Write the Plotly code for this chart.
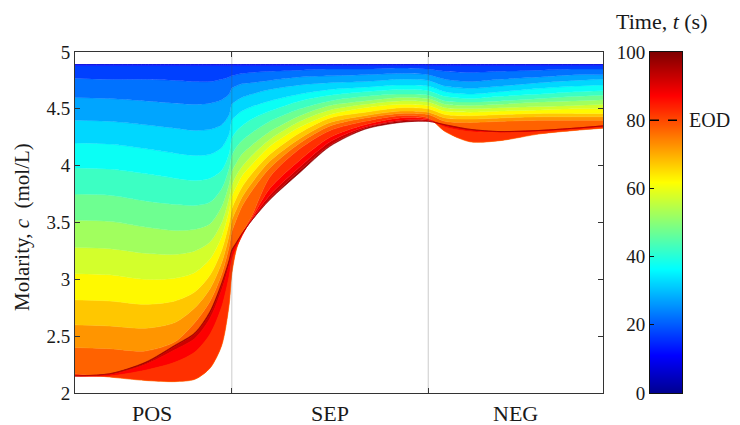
import plotly.graph_objects as go

# ---------------- data ----------------
# normalised through-thickness position (0 = POS current collector, 1 = NEG end)
positions = [0.000, 0.066, 0.133, 0.189, 0.227, 0.256, 0.278, 0.292, 0.297,
             0.305, 0.316, 0.335, 0.369, 0.426, 0.483, 0.549, 0.616, 0.669,
             0.701, 0.748, 0.805, 0.881, 0.947, 1.000]

times = [0, 5, 10, 15, 20, 25, 30, 35, 40, 45, 50, 55, 60, 65, 70, 75, 80, 85, 90, 95, 100]

c_t000 = [4.89, 4.89, 4.89, 4.89, 4.89, 4.89, 4.89, 4.89, 4.89, 4.89, 4.89, 4.89, 4.89, 4.89, 4.89, 4.89, 4.89, 4.89, 4.89, 4.89, 4.89, 4.89, 4.89, 4.89]
c_t005 = [4.89, 4.89, 4.89, 4.89, 4.89, 4.89, 4.89, 4.89, 4.89, 4.89, 4.89, 4.89, 4.89, 4.89, 4.89, 4.89, 4.89, 4.89, 4.89, 4.89, 4.89, 4.89, 4.89, 4.89]
c_t010 = [4.89, 4.89, 4.89, 4.89, 4.89, 4.89, 4.89, 4.89, 4.89, 4.89, 4.89, 4.89, 4.89, 4.89, 4.89, 4.89, 4.89, 4.89, 4.89, 4.89, 4.89, 4.89, 4.89, 4.89]
c_t015 = [4.88, 4.88, 4.88, 4.88, 4.88, 4.88, 4.88, 4.88, 4.88, 4.88, 4.88, 4.88, 4.88, 4.88, 4.88, 4.88, 4.88, 4.88, 4.88, 4.88, 4.88, 4.88, 4.88, 4.88]
c_t020 = [4.77, 4.76, 4.76, 4.75, 4.74, 4.74, 4.76, 4.78, 4.79, 4.80, 4.81, 4.82, 4.83, 4.84, 4.85, 4.85, 4.86, 4.85, 4.83, 4.82, 4.83, 4.84, 4.85, 4.85]
c_t025 = [4.60, 4.59, 4.57, 4.55, 4.54, 4.55, 4.58, 4.63, 4.68, 4.70, 4.72, 4.73, 4.75, 4.78, 4.79, 4.80, 4.81, 4.80, 4.76, 4.74, 4.76, 4.78, 4.80, 4.80]
c_t030 = [4.40, 4.39, 4.36, 4.33, 4.31, 4.32, 4.36, 4.45, 4.54, 4.57, 4.60, 4.63, 4.67, 4.71, 4.73, 4.74, 4.76, 4.75, 4.70, 4.68, 4.70, 4.73, 4.75, 4.76]
c_t035 = [4.20, 4.19, 4.15, 4.11, 4.09, 4.10, 4.16, 4.28, 4.40, 4.44, 4.48, 4.52, 4.57, 4.63, 4.67, 4.69, 4.71, 4.70, 4.65, 4.63, 4.65, 4.68, 4.70, 4.71]
c_t040 = [3.98, 3.97, 3.93, 3.89, 3.87, 3.89, 3.96, 4.11, 4.24, 4.30, 4.35, 4.41, 4.48, 4.57, 4.62, 4.65, 4.67, 4.66, 4.61, 4.59, 4.61, 4.63, 4.65, 4.66]
c_t045 = [3.75, 3.74, 3.69, 3.66, 3.65, 3.68, 3.80, 3.98, 4.09, 4.16, 4.22, 4.29, 4.39, 4.50, 4.57, 4.61, 4.63, 4.62, 4.57, 4.56, 4.57, 4.59, 4.61, 4.62]
c_t050 = [3.52, 3.51, 3.46, 3.43, 3.44, 3.49, 3.64, 3.84, 3.95, 4.02, 4.10, 4.18, 4.30, 4.44, 4.53, 4.57, 4.60, 4.59, 4.54, 4.53, 4.54, 4.56, 4.57, 4.58]
c_t055 = [3.28, 3.27, 3.23, 3.22, 3.25, 3.33, 3.50, 3.72, 3.83, 3.91, 3.99, 4.09, 4.23, 4.39, 4.49, 4.54, 4.57, 4.56, 4.51, 4.50, 4.51, 4.52, 4.53, 4.54]
c_t060 = [3.05, 3.04, 3.00, 3.01, 3.06, 3.18, 3.38, 3.61, 3.73, 3.81, 3.91, 4.01, 4.17, 4.34, 4.45, 4.51, 4.54, 4.53, 4.48, 4.47, 4.48, 4.49, 4.50, 4.50]
c_t065 = [2.82, 2.81, 2.78, 2.81, 2.89, 3.04, 3.26, 3.50, 3.62, 3.71, 3.81, 3.93, 4.10, 4.29, 4.42, 4.47, 4.51, 4.50, 4.45, 4.44, 4.45, 4.46, 4.46, 4.46]
c_t070 = [2.60, 2.59, 2.57, 2.62, 2.75, 2.92, 3.15, 3.39, 3.52, 3.61, 3.72, 3.85, 4.04, 4.24, 4.38, 4.44, 4.48, 4.47, 4.42, 4.41, 4.42, 4.43, 4.43, 4.43]
c_t075 = [2.40, 2.39, 2.37, 2.45, 2.62, 2.81, 3.05, 3.29, 3.42, 3.52, 3.64, 3.78, 3.98, 4.20, 4.35, 4.42, 4.46, 4.45, 4.39, 4.38, 4.39, 4.40, 4.40, 4.40]
c_t080 = [2.17, 2.14, 2.11, 2.10, 2.12, 2.22, 2.42, 2.78, 3.05, 3.25, 3.40, 3.56, 3.90, 4.15, 4.31, 4.39, 4.44, 4.42, 4.30, 4.21, 4.22, 4.28, 4.31, 4.33]
c_t085 = [2.15, 2.15, 2.20, 2.27, 2.36, 2.52, 2.76, 3.03, 3.17, 3.27, 3.38, 3.54, 3.80, 4.05, 4.25, 4.36, 4.42, 4.41, 4.34, 4.30, 4.29, 4.30, 4.32, 4.34]
c_t090 = [2.15, 2.16, 2.25, 2.38, 2.48, 2.66, 2.91, 3.13, 3.23, 3.30, 3.39, 3.53, 3.74, 3.99, 4.21, 4.34, 4.40, 4.40, 4.35, 4.31, 4.30, 4.31, 4.33, 4.35]
c_t095 = [2.15, 2.17, 2.26, 2.41, 2.52, 2.70, 2.95, 3.16, 3.25, 3.31, 3.40, 3.52, 3.71, 3.96, 4.18, 4.33, 4.39, 4.39, 4.36, 4.32, 4.30, 4.31, 4.33, 4.35]
c_t100 = [2.15, 2.17, 2.27, 2.42, 2.53, 2.72, 2.97, 3.17, 3.26, 3.32, 3.40, 3.52, 3.70, 3.94, 4.17, 4.32, 4.38, 4.39, 4.36, 4.32, 4.30, 4.31, 4.33, 4.35]

curves = [c_t000, c_t005, c_t010, c_t015, c_t020, c_t025, c_t030, c_t035, c_t040,
          c_t045, c_t050, c_t055, c_t060, c_t065, c_t070, c_t075, c_t080, c_t085,
          c_t090, c_t095, c_t100]

region_bounds = [0.297, 0.669]
region_labels = ["POS", "SEP", "NEG"]
region_centers = [0.145, 0.483, 0.834]
y_ticks = [2, 2.5, 3, 3.5, 4, 4.5, 5]
y_tick_text = ["2", "2.5", "3", "3.5", "4", "4.5", "5"]
cbar_ticks = [0, 20, 40, 60, 80, 100]
eod_time = 80

# ---------------- styling ----------------
FONT = "Liberation Serif, Times New Roman, serif"
TXT = "#1a1a1a"
JET = [(0.0, (0, 0, 143)), (0.111, (0, 0, 255)), (0.365, (0, 255, 255)),
       (0.619, (255, 255, 0)), (0.873, (255, 0, 0)), (1.0, (128, 0, 0))]
JET_SCALE = [[p, "rgb(%d,%d,%d)" % c] for p, c in JET]


def jet(v):
    v = min(max(v, 0.0), 1.0)
    for (p0, c0), (p1, c1) in zip(JET[:-1], JET[1:]):
        if v <= p1:
            f = (v - p0) / (p1 - p0)
            return "rgb(%d,%d,%d)" % tuple(round(a + (b - a) * f) for a, b in zip(c0, c1))
    return "rgb(128,0,0)"


fig = go.Figure()
fig.add_trace(go.Scatter(x=positions, y=curves[0], mode="lines",
                         line=dict(width=0, shape="spline", smoothing=0.8),
                         showlegend=False, hoverinfo="skip"))
for k in range(1, len(times)):
    col = jet((times[k - 1] + times[k]) / 200.0)
    fig.add_trace(go.Scatter(x=positions, y=curves[k], mode="lines",
                             line=dict(width=0.6, color=col, shape="spline", smoothing=0.8),
                             fill="tonexty", fillcolor=col,
                             showlegend=False, hoverinfo="skip"))

# colour bar drawn as a heatmap on its own axes
fig.add_trace(go.Heatmap(x=[0, 1], y=[cbar_ticks[0], cbar_ticks[-1]],
                         z=[[cbar_ticks[0], cbar_ticks[0]], [cbar_ticks[-1], cbar_ticks[-1]]],
                         colorscale=JET_SCALE, zmin=0, zmax=100, zsmooth="best",
                         showscale=False, hoverinfo="skip", xaxis="x2", yaxis="y2"))

# the page body adds an 8 px margin, so the figure is 8 px smaller and
# every window-pixel target is shifted by that offset
OFF = 8
W, H = 740 - OFF, 425 - OFF
L, R, T, B = 75 - OFF, 0, 52 - OFF, 425 - 393
pw = W - L - R
ph = H - T - B


def px_x(px):
    return (px - OFF - L) / pw


def px_y(py):
    return (H - B - (py - OFF)) / ph


axis_common = dict(showline=True, linecolor="#333333", linewidth=1, showgrid=False,
                   zeroline=False)

fig.update_layout(
    width=W, height=H,
    margin=dict(l=L, r=R, t=T, b=B),
    paper_bgcolor="white", plot_bgcolor="white",
    font=dict(family=FONT, color=TXT, size=19),
    xaxis=dict(domain=[0, px_x(603)], range=[0, 1], tickvals=region_bounds,
               ticktext=["", ""], ticks="inside", ticklen=5, tickcolor="#333333",
               mirror="ticks", **axis_common),
    yaxis=dict(range=[2, 5], tickvals=y_ticks, ticktext=y_tick_text, ticks="inside",
               ticklen=5, tickcolor="#333333", mirror="ticks",
               tickfont=dict(family=FONT, size=19, color=TXT), **axis_common),
    xaxis2=dict(domain=[px_x(650), px_x(682)], range=[0, 1], anchor="y2",
                showticklabels=False, ticks="", showline=True, mirror=True,
                linecolor="#111111", linewidth=1, showgrid=False, zeroline=False),
    yaxis2=dict(domain=[0, 1], range=[0, 100], anchor="x2", side="left",
                tickvals=cbar_ticks, ticks="inside", ticklen=4, tickcolor="#111111",
                showline=True, mirror=True, linecolor="#111111", linewidth=1,
                showgrid=False, zeroline=False,
                tickfont=dict(family=FONT, size=19, color=TXT)),
)

shapes = []
for b in region_bounds:
    shapes.append(dict(type="line", xref="x", yref="y", x0=b, x1=b, y0=2, y1=5,
                       line=dict(color="rgba(70,70,70,0.28)", width=1), layer="above"))
shapes.append(dict(type="line", xref="x2", yref="y2", x0=0, x1=1, y0=eod_time, y1=eod_time,
                   line=dict(color="black", width=1.5, dash="dash"), layer="above"))
fig.update_layout(shapes=shapes)

ann = []
for lab, cx in zip(region_labels, region_centers):
    ann.append(dict(text=lab, xref="x", yref="paper", x=cx, y=px_y(413),
                    xanchor="center", yanchor="middle", showarrow=False,
                    font=dict(family=FONT, size=22, color=TXT)))
ann.append(dict(text="Molarity, <i>c</i>  (mol/L)", xref="paper", yref="paper",
                x=px_x(22), y=px_y(227), textangle=-90, xanchor="center", yanchor="middle",
                showarrow=False, font=dict(family=FONT, size=21, color=TXT)))
ann.append(dict(text="Time, <i>t</i> (s)", xref="paper", yref="paper",
                x=px_x(662), y=px_y(21), xanchor="center", yanchor="middle",
                showarrow=False, font=dict(family=FONT, size=22, color=TXT)))
ann.append(dict(text="EOD", xref="paper", yref="y2", x=px_x(687), y=eod_time,
                xanchor="left", yanchor="middle", showarrow=False,
                font=dict(family=FONT, size=20, color=TXT)))
fig.update_layout(annotations=ann)

fig.write_html("out.html")
